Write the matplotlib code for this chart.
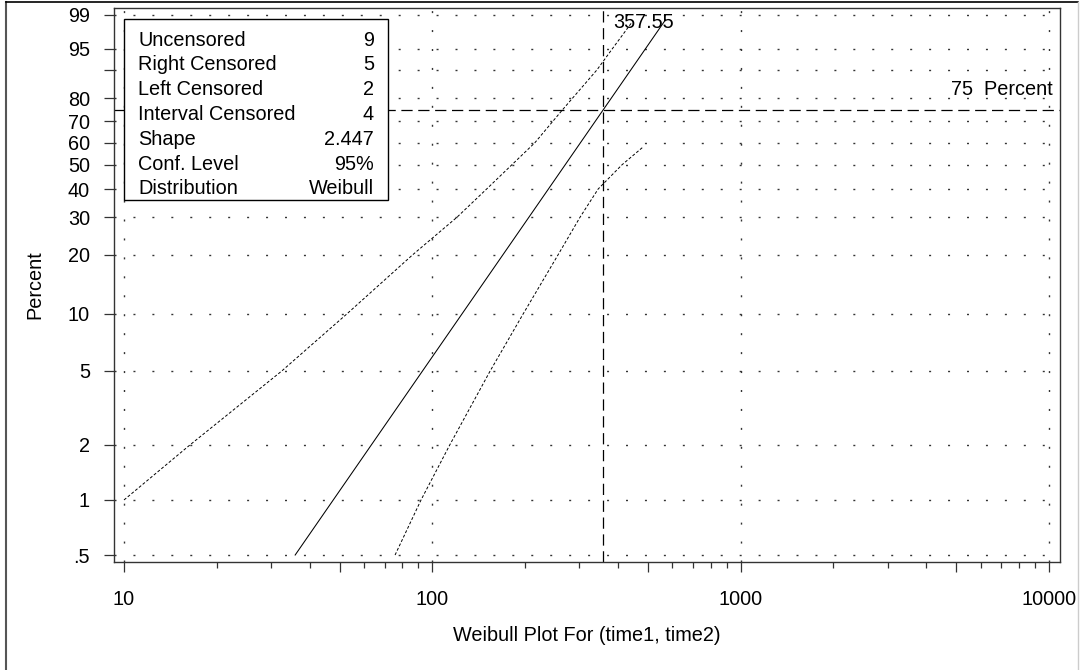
import numpy as np
import matplotlib
matplotlib.use('Agg')
import matplotlib.pyplot as plt
from matplotlib.patches import Rectangle
from matplotlib.lines import Line2D

plt.rcParams['font.family'] = ['Liberation Sans', 'DejaVu Sans']

# fitted Weibull line (percent vs time)
fit_time = [35.9, 571]
fit_pct = [0.5, 98.7]

# 95% confidence bands
upper_time = [10, 16.4, 32.5, 52.8, 86.5, 120, 150, 181, 215, 264, 342, 383, 444]
upper_pct = [1, 2, 5, 10, 20, 30, 40, 50, 60, 75, 90, 95, 98.5]
lower_time = [75.7, 91.9, 114, 154, 197, 256, 301, 345, 412, 482]
lower_pct = [0.5, 1, 2, 5, 10, 20, 30, 40, 50, 58]

# reference values
ref_time = 357.55
ref_pct = 75

pct_ticks = [0.5, 1, 2, 5, 10, 20, 30, 40, 50, 60, 70, 80, 90, 95, 99]
pct_labels = ['.5', '1', '2', '5', '10', '20', '30', '40', '50', '60', '70',
              '80', '', '95', '99']
x_decades = [10, 100, 1000, 10000]
x_long = [10, 50, 100, 500, 1000, 5000, 10000]

info_names = ['Uncensored', 'Right Censored', 'Left Censored', 'Interval Censored',
              'Shape', 'Conf. Level', 'Distribution']
info_values = ['9', '5', '2', '4', '2.447', '95%', 'Weibull']

FS = 14.3


def weib(p):
    p = np.clip(np.asarray(p, dtype=float), 1e-9, 100 - 1e-9)
    return np.log(-np.log(1 - p / 100.0))


def weib_inv(w):
    w = np.clip(np.asarray(w, dtype=float), -50, 3)
    return 100.0 * (1 - np.exp(-np.exp(w)))


fig = plt.figure(figsize=(10.81, 6.70), dpi=100)
ax = fig.add_axes([114 / 1081, 108 / 670, 945.5 / 1081, 554 / 670])
ax.set_xscale('log')
ax.set_yscale('function', functions=(weib, weib_inv))
ax.set_xlim(9.28, 10815)
ax.set_ylim(0.4579, 99.345)

dots = (0, (1.44, 12.2))
for t in x_decades:
    ax.axvline(t, color='#333333', lw=1.0, linestyle=dots, zorder=1)
for p in pct_ticks:
    ax.axhline(p, color='#333333', lw=1.0, linestyle=dots, zorder=1)

ax.plot(fit_time, fit_pct, color='black', lw=0.75, zorder=3)
ax.plot(upper_time, upper_pct, color='black', lw=0.7, linestyle=(0, (3, 2)), zorder=3)
ax.plot(lower_time, lower_pct, color='black', lw=0.7, linestyle=(0, (3, 2)), zorder=3)

ax.axvline(ref_time, color='black', lw=0.9, linestyle=(0, (9, 4.5)), zorder=2)
ax.axhline(ref_pct, color='black', lw=0.9, linestyle=(0, (9, 4.5)), zorder=2)

ax.annotate('%.2f' % ref_time, xy=(ref_time, 1), xycoords=('data', 'axes fraction'),
            xytext=(10, -14), textcoords='offset pixels', ha='left', va='center',
            fontsize=FS, zorder=5)
ax.annotate('75  Percent', xy=(1, ref_pct), xycoords=('axes fraction', 'data'),
            xytext=(-7, 20), textcoords='offset pixels', ha='right', va='center',
            fontsize=FS, zorder=5)

# ticks
ax.set_yticks(pct_ticks)
ax.set_yticklabels(pct_labels)
ax.yaxis.set_minor_locator(matplotlib.ticker.NullLocator())
ax.set_xticks(x_long)
ax.set_xticklabels([str(t) if t in x_decades else '' for t in x_long])
ax.set_xticks([v * m for v in [10, 100, 1000] for m in [2, 3, 4, 6, 7, 8, 9]], minor=True)
ax.xaxis.set_minor_formatter(matplotlib.ticker.NullFormatter())
ax.tick_params(axis='y', which='major', direction='out', length=7.2, width=0.9,
               pad=10, labelsize=FS, color='#333333')
ax.tick_params(axis='x', which='major', direction='out', length=7.5, width=0.9,
               pad=12.5, labelsize=FS, color='#333333')
ax.tick_params(axis='x', which='minor', direction='out', length=4, width=0.9,
               color='#333333')
for s in ax.spines.values():
    s.set_color('#333333')
    s.set_linewidth(1.0)

ax.set_xlabel('Weibull Plot For (time1, time2)', fontsize=FS)
ax.xaxis.set_label_coords(0.5, -0.132)
ax.xaxis.label.set_va('center')
ax.set_ylabel('Percent', fontsize=FS)
ax.yaxis.set_label_coords(-0.0836, 0.5)
ax.yaxis.label.set_va('center')

# info box
def afx(px):
    return (px - 114) / 945.5


def afy(py):
    return (562 - py) / 554


ax.add_patch(Rectangle((afx(124), afy(200)), afx(388) - afx(124), afy(19) - afy(200),
                       transform=ax.transAxes, facecolor='white', edgecolor='black',
                       lw=1.0, zorder=6))
for i, (n, v) in enumerate(zip(info_names, info_values)):
    yy = afy(40 + 24.8 * i)
    ax.text(afx(138), yy, n, transform=ax.transAxes, ha='left', va='center',
            fontsize=FS, zorder=7)
    ax.text(afx(374), yy, v, transform=ax.transAxes, ha='right', va='center',
            fontsize=FS, zorder=7)

# outer frame
fig.add_artist(Line2D([5.5 / 1081, 5.5 / 1081], [0, 1 - 2 / 670], transform=fig.transFigure,
                      color='#555555', lw=1.5))
fig.add_artist(Line2D([5.5 / 1081, 1078 / 1081], [1 - 2 / 670, 1 - 2 / 670],
                      transform=fig.transFigure, color='black', lw=1.2))
fig.add_artist(Line2D([1078 / 1081, 1078 / 1081], [0, 1 - 2 / 670], transform=fig.transFigure,
                      color='#cccccc', lw=1.0))

fig.savefig('out.png', dpi=100)
plt.close(fig)
